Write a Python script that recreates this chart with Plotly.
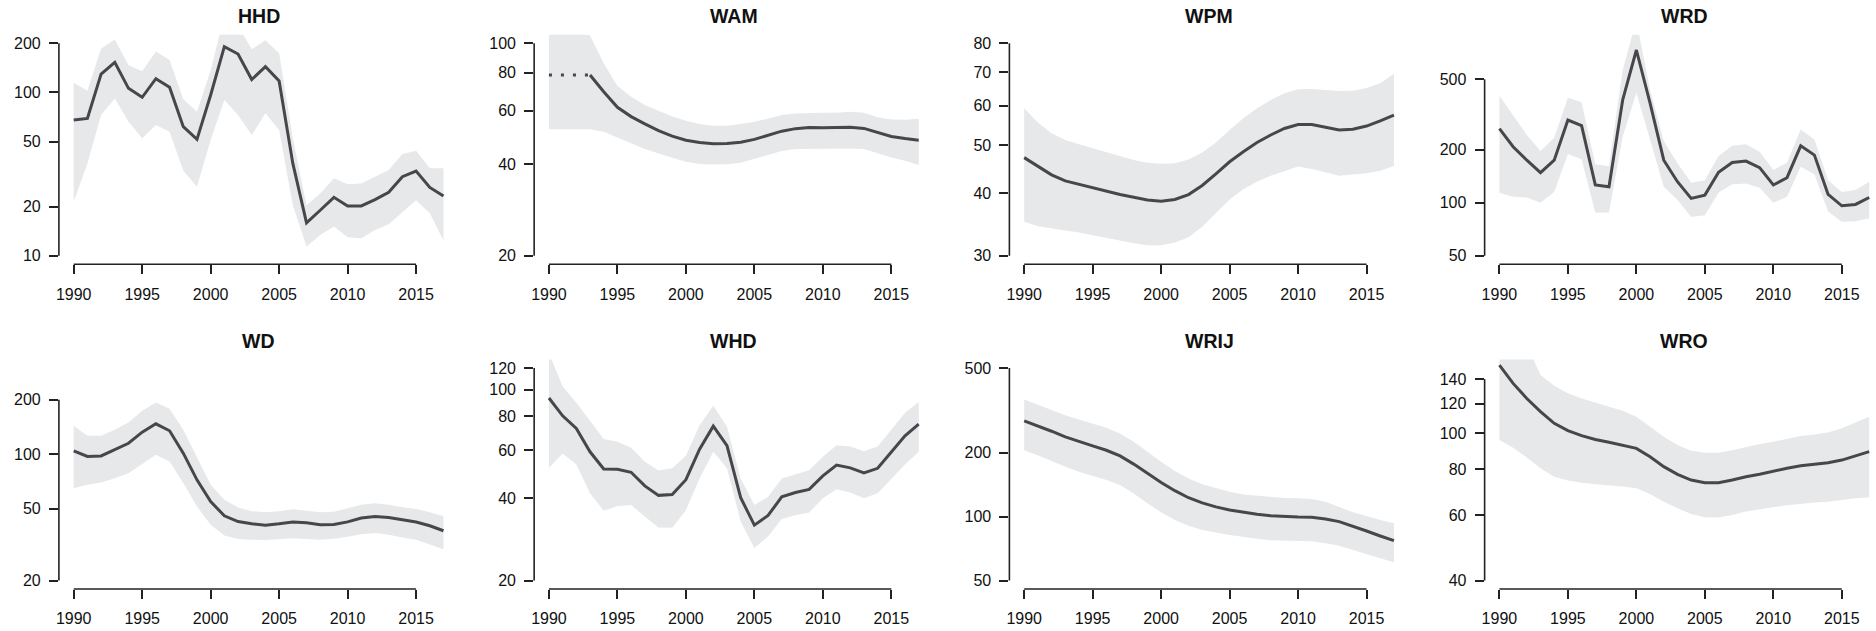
import math
import plotly.graph_objects as go

# ---- data -------------------------------------------------------------
years = list(range(1990, 2018))
x_ticks = [1990, 1995, 2000, 2005, 2010, 2015]

sites = ["HHD", "WAM", "WPM", "WRD", "WD", "WHD", "WRIJ", "WRO"]

HHD_est = [67.8, 69.4, 129.7, 153, 106, 93.4, 121.5, 107.5, 61.7, 51.6, 96.5, 190.8, 172, 120,
           143.8, 117.5, 36.8, 15.9, 19.0, 22.8, 20.2, 20.2, 22.1, 24.5, 30.5, 33.0, 26.2, 23.2]
HHD_hi = [114.8, 102.6, 186, 211, 147, 135, 178, 158, 90.8, 76.3, 137, 297, 257, 184,
          209, 174, 52.4, 20.4, 24.1, 29.8, 27.4, 27.7, 30.5, 33.5, 42, 44, 34.3, 34.3]
HHD_lo = [21.4, 36.8, 72.8, 92, 66.2, 52.4, 63.2, 57.5, 33.2, 26.5, 51.2, 90, 72.8, 54.9,
          74.5, 58.9, 20.4, 11.4, 13.4, 15.1, 13.0, 12.8, 14.4, 15.6, 18.6, 21.9, 18.2, 12.4]

WAM_est = [78.7, 78.7, 78.7, 78.7, 69.3, 61.6, 57.4, 54.3, 51.6, 49.5, 48.0, 47.2, 46.7, 46.8,
           47.3, 48.3, 49.9, 51.4, 52.4, 52.8, 52.7, 52.7, 52.9, 52.5, 50.8, 49.4, 48.6, 48.0]
WAM_hi = [110, 110, 110, 106, 85.9, 72.4, 66.7, 62.7, 59.9, 57.4, 55.6, 54.3, 53.6, 53.6,
          54.3, 55.2, 56.5, 58.1, 58.8, 59.1, 59.1, 59.1, 59.5, 59.1, 57.1, 56.2, 56.0, 56.5]
WAM_lo = [52.2, 52.2, 52.2, 52.2, 51.2, 49.0, 46.9, 44.9, 43.5, 42.0, 40.8, 40.1, 39.9, 40.0,
          40.5, 41.5, 42.9, 44.2, 44.9, 45.1, 45.1, 45.1, 45.1, 44.9, 43.5, 42.1, 41.1, 39.8]
# first years of WAM are carried back as a constant (drawn dotted)
WAM_n_carried = 4

WPM_est = [47.2, 45.3, 43.6, 42.4, 41.7, 41.1, 40.4, 39.8, 39.3, 38.8, 38.6, 38.9, 39.8, 41.5,
           43.8, 46.3, 48.5, 50.6, 52.4, 54.0, 55.0, 55.0, 54.3, 53.6, 53.8, 54.6, 55.9, 57.4]
WPM_hi = [59.3, 55.5, 52.8, 51.2, 50.2, 49.3, 48.4, 47.4, 46.7, 46.1, 45.9, 46.0, 46.8, 48.3,
          50.6, 53.6, 56.6, 59.3, 61.6, 63.5, 64.7, 64.8, 64.5, 64.2, 64.3, 65.1, 66.5, 69.5]
WPM_lo = [35.1, 34.4, 34.0, 33.7, 33.4, 33.0, 32.6, 32.2, 31.8, 31.5, 31.5, 31.9, 32.7, 34.3,
          36.5, 38.9, 40.8, 42.2, 43.4, 44.4, 45.3, 44.8, 44.1, 43.4, 43.6, 43.9, 44.4, 45.4]

WRD_est = [262.6, 207.5, 174, 148, 174, 294, 273, 126, 123, 382, 733, 366, 174, 131.5,
           105.7, 110.4, 148.6, 169, 172, 158, 126, 138.5, 210, 186, 111.4, 96, 97.7, 107]
WRD_hi = [404, 314, 242, 196, 233, 393.6, 370.5, 165, 161, 565, 1080, 435, 223.5, 167,
          129.7, 134, 184, 210, 214, 194.5, 153, 169, 260, 228, 134, 115, 118, 131.5]
WRD_lo = [114, 108, 107, 99.9, 115, 189, 176, 88, 88, 236.6, 420, 226, 123, 104,
          83, 85, 114, 127, 128.5, 121.5, 100, 108, 160, 145, 89, 78, 78.4, 81.5]

WD_est = [104.4, 97.2, 97.8, 105.7, 115, 132.5, 147.3, 134.8, 101.4, 72.1, 54.7, 45.6, 42.4, 41.2,
          40.5, 41.2, 42.2, 41.7, 40.7, 40.8, 42.2, 44.3, 45.2, 44.6, 43.3, 42.1, 40.2, 37.7]
WD_hi = [143.6, 126.4, 126.4, 136.5, 149.8, 173.9, 193.3, 178.3, 136.5, 95.1, 67.7, 55.9, 50.7, 48.4,
         47.8, 48.4, 49.6, 48.7, 47.8, 48.0, 50.0, 52.5, 53.5, 52.5, 50.9, 49.8, 47.8, 45.4]
WD_lo = [64.9, 67.7, 69.7, 73.7, 78.5, 88.4, 99.2, 91.1, 69.2, 51.4, 40.7, 35.5, 33.9, 33.6,
         33.5, 33.8, 34.3, 34.0, 33.6, 34.0, 34.9, 36.1, 36.6, 35.8, 34.6, 33.6, 31.8, 29.8]

WHD_est = [93.2, 80.2, 72.1, 59.2, 51.2, 51.1, 49.8, 44.4, 41.0, 41.3, 46.8, 60.5, 73.5, 62.3,
           40.2, 31.9, 34.6, 40.5, 42.0, 43.1, 48.3, 52.9, 51.7, 49.5, 51.5, 59.2, 67.7, 74.7]
WHD_hi = [136, 102.9, 89.6, 76.6, 65.9, 64.4, 61.2, 54.4, 50.6, 51.5, 57.2, 74.1, 87.2, 73.1,
          47.3, 37.8, 40.5, 47.3, 49.1, 50.7, 56.8, 62.6, 61.9, 59.5, 61.9, 71.0, 82.2, 90.1]
WHD_lo = [51.7, 58.4, 53.2, 41.7, 36.0, 37.5, 37.8, 34.3, 31.3, 31.2, 36.2, 47.3, 59.2, 51.5,
          32.9, 26.3, 29.0, 33.6, 34.7, 35.5, 40.0, 43.2, 42.0, 40.0, 41.7, 47.3, 53.2, 59.2]

WRIJ_est = [282, 267, 252, 237, 225, 215, 205, 193, 176.5, 159.6, 144.7, 132.3, 122.6, 116,
            111, 107.4, 104.7, 102.4, 100.9, 99.9, 99.5, 99.2, 97.4, 94.6, 90.3, 85.5, 81.0, 77.0]
WRIJ_hi = [355, 336, 316, 300, 286, 274, 262, 246, 225, 202, 181, 164, 151, 141.7,
           135.7, 130.9, 127, 125.4, 123, 122.2, 121.8, 121, 117.5, 111, 104.7, 100.6, 96.3, 93]
WRIJ_lo = [205, 194.5, 183, 171.5, 162.5, 155, 148.5, 140.6, 128.5, 115.4, 104.7, 96.3, 90.6, 86.5,
           84, 81.9, 79.9, 78.5, 77.3, 76.7, 76.7, 76.5, 74.9, 72.9, 69.7, 66.5, 63.7, 61.0]

WRO_est = [152.7, 136.3, 124.1, 114.3, 106.3, 101.6, 98.5, 96.2, 94.5, 92.9, 91.0, 86.4, 81.2, 77.4,
           74.7, 73.5, 73.5, 74.7, 76.3, 77.5, 79.0, 80.4, 81.7, 82.4, 83.2, 84.6, 86.8, 89.2]
WRO_hi = [195, 185, 173, 143.5, 134.3, 128.1, 124.1, 121.1, 117.9, 115, 110.8, 104.1, 97.8, 92.9,
          89.7, 88.6, 88.6, 90.0, 91.9, 93.5, 94.8, 96.4, 98.3, 99.2, 100.5, 103.1, 107, 110.8]
WRO_lo = [95.8, 91.4, 85.9, 80.4, 76.3, 74.5, 73.5, 72.8, 72.2, 71.8, 71.0, 68.5, 65.3, 62.7,
          60.5, 59.3, 59.2, 60.1, 61.4, 62.3, 63.1, 63.9, 64.5, 65.0, 65.3, 66.0, 66.7, 67.0]

# log-axis limits and tick values per site
HHD_ylim, HHD_ticks = (10, 200), [10, 20, 50, 100, 200]
WAM_ylim, WAM_ticks = (20, 100), [20, 40, 60, 80, 100]
WPM_ylim, WPM_ticks = (30, 80), [30, 40, 50, 60, 70, 80]
WRD_ylim, WRD_ticks = (50, 800), [50, 100, 200, 500]
WD_ylim, WD_ticks = (20, 300), [20, 50, 100, 200]
WHD_ylim, WHD_ticks = (20, 120), [20, 40, 60, 80, 100, 120]
WRIJ_ylim, WRIJ_ticks = (50, 500), [50, 100, 200, 500]
WRO_ylim, WRO_ticks = (40, 150), [40, 60, 80, 100, 120, 140]

series = {
    "HHD": (HHD_est, HHD_lo, HHD_hi, HHD_ylim, HHD_ticks),
    "WAM": (WAM_est, WAM_lo, WAM_hi, WAM_ylim, WAM_ticks),
    "WPM": (WPM_est, WPM_lo, WPM_hi, WPM_ylim, WPM_ticks),
    "WRD": (WRD_est, WRD_lo, WRD_hi, WRD_ylim, WRD_ticks),
    "WD": (WD_est, WD_lo, WD_hi, WD_ylim, WD_ticks),
    "WHD": (WHD_est, WHD_lo, WHD_hi, WHD_ylim, WHD_ticks),
    "WRIJ": (WRIJ_est, WRIJ_lo, WRIJ_hi, WRIJ_ylim, WRIJ_ticks),
    "WRO": (WRO_est, WRO_lo, WRO_hi, WRO_ylim, WRO_ticks),
}
carried = {"WAM": WAM_n_carried}

# ---- styling / page geometry -----------------------------------------
W, H = 1876, 631
FONT = "Liberation Sans, Arial, Helvetica, sans-serif"
LINE_COL = "#47474b"
BAND_COL = "#e7e8e9"
AXIS_COL = "#222222"
TEXT_COL = "#111111"
TICK_SIZE = 16
TITLE_SIZE = 19.5
col_left = [56, 532, 1008, 1484]
row_top = [34.8, 359.5]
PANEL_W, PANEL_H = 400, 229.5
PAD = 0.04  # axis padding as a fraction of the data range

x_span = years[-1] - years[0]
x_lo = years[0] - PAD * x_span
x_hi = years[-1] + PAD * x_span

fig = go.Figure()
layout = dict(
    width=W, height=H, margin=dict(l=0, r=0, t=0, b=0),
    paper_bgcolor="white", plot_bgcolor="white", showlegend=False,
    font=dict(family=FONT, size=TICK_SIZE, color=TEXT_COL),
)
shapes, annotations = [], []

for i, name in enumerate(sites):
    est, lo, hi, ylim, yticks = series[name]
    r, c = divmod(i, 4)
    k = "" if i == 0 else str(i + 1)
    xa, ya = "x" + k, "y" + k

    left = col_left[c]
    right = min(left + PANEL_W, W)
    x_range = [x_lo, x_lo + (right - left) / PANEL_W * (x_hi - x_lo)]
    top = row_top[r]
    bottom = top + PANEL_H

    l0, l1 = math.log10(ylim[0]), math.log10(ylim[1])
    ypad = PAD * (l1 - l0)
    y_range = [l0 - ypad, l1 + ypad]

    layout["xaxis" + k] = dict(
        domain=[left / W, right / W], range=x_range, anchor=ya,
        tickvals=x_ticks, ticktext=[str(t) for t in x_ticks],
        ticks="outside", ticklen=9, tickwidth=1.6, tickcolor=AXIS_COL,
        ticklabelstandoff=6,
        showgrid=False, zeroline=False, showline=False, fixedrange=True,
        tickfont=dict(size=TICK_SIZE, family=FONT, color=TEXT_COL),
    )
    layout["yaxis" + k] = dict(
        domain=[1 - bottom / H, 1 - top / H], type="log", range=y_range, anchor=xa,
        tickvals=yticks, ticktext=[str(t) for t in yticks],
        ticks="outside", ticklen=9, tickwidth=1.6, tickcolor=AXIS_COL,
        ticklabelstandoff=5,
        showgrid=False, zeroline=False, showline=False, fixedrange=True,
        tickfont=dict(size=TICK_SIZE, family=FONT, color=TEXT_COL),
    )

    # confidence band
    fig.add_trace(go.Scatter(
        x=years + years[::-1], y=hi + lo[::-1], xaxis=xa, yaxis=ya,
        fill="toself", fillcolor=BAND_COL, line=dict(width=0),
        mode="lines", hoverinfo="skip",
    ))
    # trend line (carried-back years dotted)
    n0 = carried.get(name, 0)
    if n0:
        fig.add_trace(go.Scatter(
            x=years[:n0], y=est[:n0], xaxis=xa, yaxis=ya, mode="lines",
            line=dict(color=LINE_COL, width=3, dash="3px,9px"),
        ))
    start = max(n0 - 1, 0)
    fig.add_trace(go.Scatter(
        x=years[start:], y=est[start:], xaxis=xa, yaxis=ya, mode="lines",
        line=dict(color=LINE_COL, width=3),
    ))

    # axis lines spanning first to last tick
    shapes.append(dict(
        type="line", xref=xa, yref=ya + " domain",
        x0=x_ticks[0], x1=x_ticks[-1], y0=0, y1=0,
        line=dict(color=AXIS_COL, width=1.6),
    ))
    f0 = (math.log10(yticks[0]) - y_range[0]) / (y_range[1] - y_range[0])
    f1 = (math.log10(yticks[-1]) - y_range[0]) / (y_range[1] - y_range[0])
    shapes.append(dict(
        type="line", xref=xa + " domain", yref=ya + " domain",
        x0=0, x1=0, y0=f0, y1=f1,
        line=dict(color=AXIS_COL, width=1.6),
    ))

    # panel title
    annotations.append(dict(
        text="<b>%s</b>" % name, xref=xa, yref="paper",
        x=(x_lo + x_hi) / 2, y=1 - (top - 18.5) / H,
        xanchor="center", yanchor="middle", showarrow=False,
        font=dict(size=TITLE_SIZE, family=FONT, color=TEXT_COL),
    ))

layout["shapes"] = shapes
layout["annotations"] = annotations
fig.update_layout(**layout)
fig.write_html("out.html")
